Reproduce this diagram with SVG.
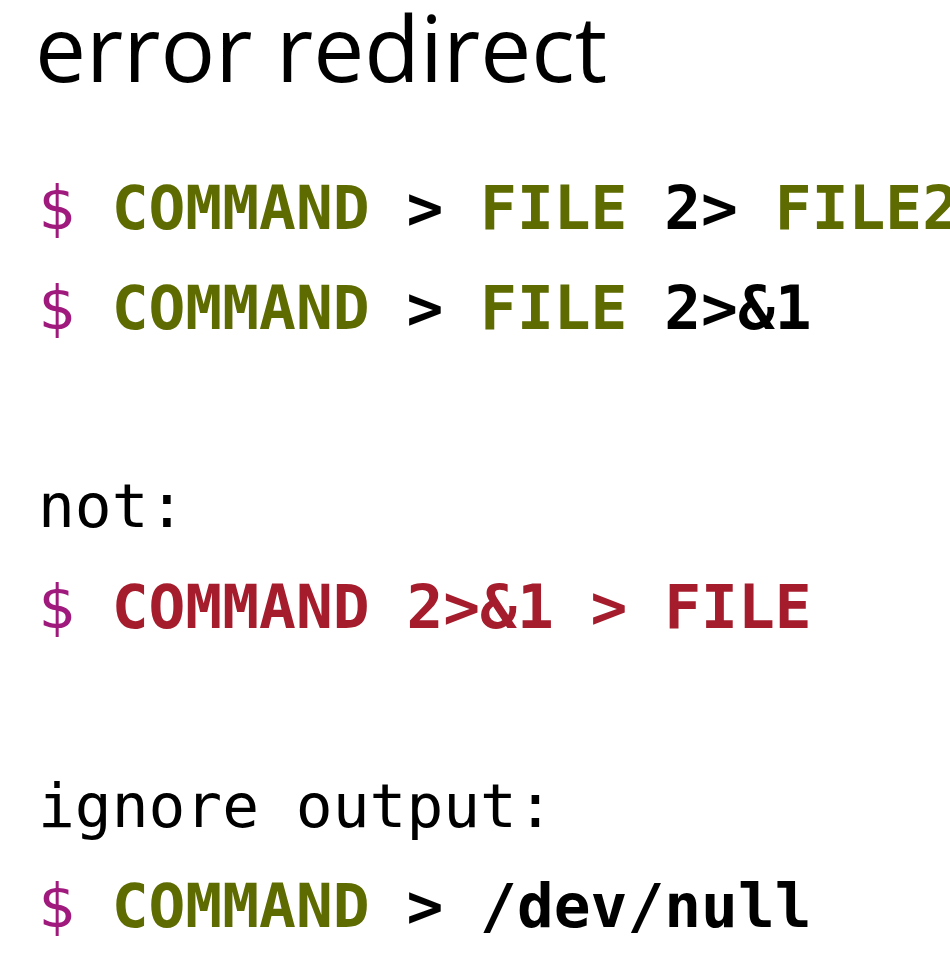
<svg xmlns="http://www.w3.org/2000/svg" width="950" height="954" viewBox="0 0 950 954">
<style>
.title{font-family:"Open Sans","Noto Sans",sans-serif;font-size:91px;fill:#000}
.m{font-family:"DejaVu Sans Mono",monospace;font-size:61.2px;fill:#000;white-space:pre}
.b{font-weight:bold}
.p{fill:#a01a7d;font-weight:normal}
.g{fill:#5e6b00}
.r{fill:#a51d2d}
</style>
<rect width="950" height="954" fill="#fff"/>
<text class="title" x="35" y="82">error redirect</text>
<text class="m b" x="38" y="229" xml:space="preserve"><tspan class="p">$</tspan> <tspan class="g">COMMAND</tspan> &gt; <tspan class="g">FILE</tspan> 2&gt; <tspan class="g">FILE2</tspan></text>
<text class="m b" x="38" y="329" xml:space="preserve"><tspan class="p">$</tspan> <tspan class="g">COMMAND</tspan> &gt; <tspan class="g">FILE</tspan> 2&gt;&amp;1</text>
<text class="m" x="38" y="527">not:</text>
<text class="m b" x="38" y="628" xml:space="preserve"><tspan class="p">$</tspan> <tspan class="r">COMMAND 2&gt;&amp;1 &gt; FILE</tspan></text>
<text class="m" x="38" y="827" xml:space="preserve">ignore output:</text>
<text class="m b" x="38" y="927" xml:space="preserve"><tspan class="p">$</tspan> <tspan class="g">COMMAND</tspan> &gt; /dev/null</text>
</svg>
